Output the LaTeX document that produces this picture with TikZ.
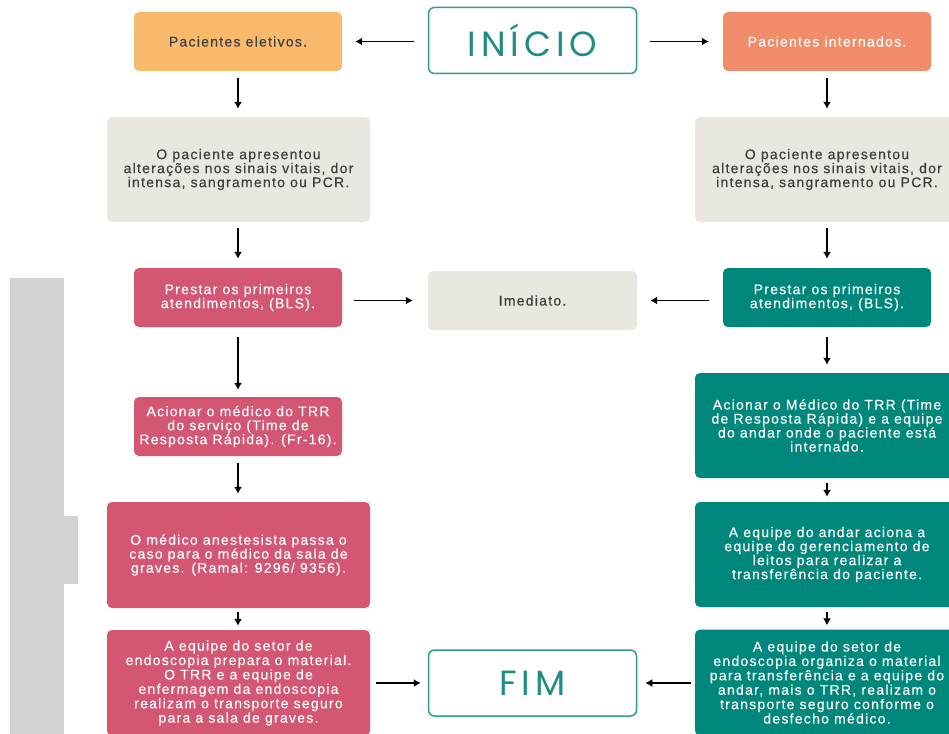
\documentclass[tikz,border=0pt]{standalone}
\usepackage{fontspec}
\usetikzlibrary{arrows.meta}
\newfontfamily\bodyfont[LetterSpace=9,FakeBold=0.4]{Liberation Sans}
\newfontfamily\titlefont[LetterSpace=14]{Poppins}
\definecolor{cOrange}{HTML}{F9BA6E}
\definecolor{cSalmon}{HTML}{F08C69}
\definecolor{cGray}{HTML}{E9E7E0}
\definecolor{cPink}{HTML}{D35672}
\definecolor{cTeal}{HTML}{00877B}
\definecolor{cOutline}{HTML}{2E9C90}
\definecolor{cTitle}{HTML}{1E8E84}
\definecolor{cBar}{HTML}{D2D2D2}
\definecolor{cDark}{HTML}{3F3F3F}
\tikzset{
  box/.style={rounded corners=5pt, inner sep=0pt, align=center,
    font=\bodyfont\fontsize{14}{14}\selectfont},
  small/.style={box, minimum width=208pt, minimum height=59pt},
  big/.style={box, minimum width=263pt, minimum height=105pt},
  grayfill/.style={fill=cGray, text=cDark},
  pinkfill/.style={fill=cPink, text=white},
  tealfill/.style={fill=cTeal, text=white},
  terminal/.style={draw=cOutline, line width=1.5pt, rounded corners=6pt,
    minimum width=208pt, minimum height=66pt, inner sep=0pt,
    text=cTitle, font=\titlefont\fontsize{35}{35}\selectfont},
  arr/.style={-{Latex[length=7pt,width=8pt]}, line width=1.3pt, black}
}
\begin{document}
\begin{tikzpicture}[x=1pt,y=-1pt]
\useasboundingbox (0,0) rectangle (949,733);
\clip (0,0) rectangle (949,733);
\fill[white] (0,0) rectangle (949,733);
% side bar
\fill[cBar] (10,278) rectangle (64,740);
\fill[cBar] (63,516) rectangle (78,584);

\node[terminal] (ini) at (532.5,40.5) {INÍCIO};
\node[small, fill=cOrange, text=cDark] (ele) at (238,41.5) {Pacientes eletivos.};
\node[small, fill=cSalmon, text=white] (int) at (827,41.5) {Pacientes internados.};

\node[big, grayfill] (gL) at (238.5,169.5) {O paciente apresentou\\alterações nos sinais vitais, dor\\intensa, sangramento ou PCR.};
\node[big, grayfill, minimum width=264pt] (gR) at (827,169.5) {O paciente apresentou\\alterações nos sinais vitais, dor\\intensa, sangramento ou PCR.};

\node[small, pinkfill] (pL) at (238,297.5) {Prestar os primeiros\\atendimentos, (BLS).};
\node[small, grayfill, minimum width=209pt] (imed) at (532.5,300.5) {Imediato.};
\node[small, tealfill] (pR) at (827,297.5) {Prestar os primeiros\\atendimentos, (BLS).};

\node[small, pinkfill] (aL) at (238,426.5) {Acionar o médico do TRR\\do serviço (Time de\\Resposta Rápida). (Fr-16).};
\node[big, tealfill, minimum width=264pt] (aR) at (827,425.5) {Acionar o Médico do TRR (Time\\de Resposta Rápida) e a equipe\\do andar onde o paciente está\\internado.};

\node[big, pinkfill, minimum height=106pt] (mL) at (238.5,555) {O médico anestesista passa o\\caso para o médico da sala de\\graves. (Ramal: 9296/ 9356).};
\node[big, tealfill, minimum width=264pt] (eR) at (827,554.5) {A equipe do andar aciona a\\equipe do gerenciamento de\\leitos para realizar a\\transferência do paciente.};

\node[big, pinkfill, minimum height=106pt, font=\bodyfont\fontsize{14}{14.4}\selectfont] (fL) at (238.5,683) {A equipe do setor de\\endoscopia prepara o material.\\O TRR e a equipe de\\enfermagem da endoscopia\\realizam o transporte seguro\\para a sala de graves.};
\node[big, tealfill, minimum width=264pt, minimum height=106pt, font=\bodyfont\fontsize{14}{14.4}\selectfont] (fR) at (827,682.5) {A equipe do setor de\\endoscopia organiza o material\\para transferência e a equipe do\\andar, mais o TRR, realizam o\\transporte seguro conforme o\\desfecho médico.};

\node[terminal] (fim) at (532.5,683) {FIM};

% connectors
\draw[arr, shorten <=14pt, shorten >=13pt] (ini.west |- ele.east) -- (ele.east);
\draw[arr, shorten <=13pt, shorten >=14pt] (ini.east |- int.west) -- (int.west);
\draw[arr, shorten <=7pt, shorten >=8pt] (ele.south) -- (gL.north -| ele.south);
\draw[arr, shorten <=6pt, shorten >=9pt] (gL.south -| ele.south) -- (pL.north);
\draw[arr, shorten <=10pt, shorten >=7pt] (pL.south) -- (aL.north);
\draw[arr, shorten <=7pt, shorten >=8pt] (aL.south) -- (mL.north -| aL.south);
\draw[arr, shorten <=4pt, shorten >=4pt] (mL.south -| aL.south) -- (fL.north -| aL.south);
\draw[arr, shorten <=7pt, shorten >=8pt] (int.south) -- (gR.north);
\draw[arr, shorten <=6pt, shorten >=9pt] (gR.south) -- (pR.north);
\draw[arr, shorten <=10pt, shorten >=8pt] (pR.south) -- (aR.north);
\draw[arr, shorten <=5pt, shorten >=5pt] (aR.south) -- (eR.north);
\draw[arr, shorten <=5pt, shorten >=4pt] (eR.south) -- (fR.north);
\draw[arr, shorten <=12pt, shorten >=15pt] (pL.east |- imed.west) -- (imed.west);
\draw[arr, shorten <=14pt, shorten >=13pt] (pR.west |- imed.east) -- (imed.east);
\draw[arr, shorten <=6pt, shorten >=7pt] (fL.east |- fim.west) -- (fim.west);
\draw[arr, shorten <=4pt, shorten >=8pt] (fR.west |- fim.east) -- (fim.east);
\end{tikzpicture}
\end{document}
